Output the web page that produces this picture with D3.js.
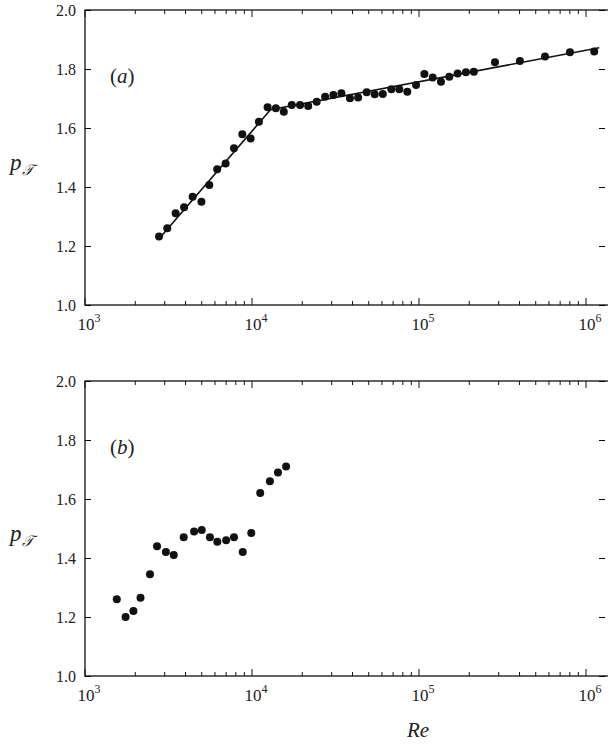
<!DOCTYPE html>
<meta charset="UTF-8">
<html>
<head>
<script src="https://cdn.jsdelivr.net/npm/d3@7"></script>
<style>
body { margin: 0; background: #fff; }
</style>
</head>
<body>
<div id="chart"></div>
<script>
// panel (a): measured points
var reA = [2775, 3110, 3490, 3920, 4410, 4980, 5550, 6190, 6950, 7800, 8750, 9810, 11000,
  12400, 13900, 15500, 17300, 19400, 21700, 24400, 27400, 30700, 34300, 38600, 43200,
  48600, 54300, 60700, 68300, 76200, 85100, 96000, 107700, 120800, 135400, 151800,
  170300, 191000, 213000, 285000, 402000, 568000, 802000, 1120000]
var pA = [1.232, 1.26, 1.311, 1.331, 1.367, 1.350, 1.407, 1.460, 1.480, 1.531, 1.579, 1.564, 1.621,
  1.670, 1.667, 1.655, 1.678, 1.678, 1.675, 1.689, 1.706, 1.712, 1.718, 1.701, 1.703,
  1.721, 1.714, 1.715, 1.731, 1.731, 1.723, 1.746, 1.783, 1.771, 1.757, 1.774,
  1.785, 1.789, 1.791, 1.823, 1.827, 1.842, 1.857, 1.859]
// panel (a): fitted piecewise line
var fitRe = [2750, 12900, 1200000]
var fitP = [1.222, 1.662, 1.872]
// panel (b)
var reB = [1550, 1750, 1950, 2150, 2450, 2700, 3050, 3400, 3900, 4500, 5000, 5600, 6200,
  7000, 7800, 8800, 9900, 11200, 12800, 14300, 16000]
var pB = [1.26, 1.20, 1.22, 1.265, 1.345, 1.44, 1.42, 1.41, 1.47, 1.49, 1.495, 1.47, 1.455,
  1.46, 1.47, 1.42, 1.485, 1.62, 1.66, 1.69, 1.71]
var yTicks = [1.0, 1.2, 1.4, 1.6, 1.8, 2.0]
var xDecades = [1e3, 1e4, 1e5, 1e6]

var FONT = "Liberation Serif"
var W = 608, H = 746
var svg = d3.select("#chart").append("svg").attr("width", W).attr("height", H)
  .attr("font-family", FONT)

var x = d3.scaleLog().domain([1e3, Math.pow(10, 3 + 527 / 167)]).range([85, 612])

function txt(sel) { return sel.attr("font-family", FONT).attr("fill", "#222") }

function panel(top, label, re, p, fit) {
  var y = d3.scaleLinear().domain([1, 2]).range([top + 295, top])
  var g = svg.append("g")
  g.append("rect").attr("x", 85).attr("y", top).attr("width", 527).attr("height", 295)
    .attr("fill", "none").attr("stroke", "#111").attr("stroke-width", 1.3)
  var ya = g.append("g").attr("transform", "translate(85,0)")
    .call(d3.axisLeft(y).tickValues(yTicks).tickSizeInner(-6).tickSizeOuter(0).tickPadding(9)
      .tickFormat(d3.format(".1f")))
  ya.attr("font-family", FONT).attr("font-size", 16)
  ya.select(".domain").remove()
  txt(ya.selectAll("text"))
  var yr = g.append("g").attr("transform", "translate(605,0)")
    .call(d3.axisRight(y).tickValues(yTicks).tickSizeInner(-6).tickSizeOuter(0).tickFormat(""))
  yr.select(".domain").remove()
  var minor = []
  for (var k = 3; k < 7; k++) for (var m = 2; m < 10; m++) minor.push(m * Math.pow(10, k))
  minor = minor.filter(function (v) { return x(v) < 608 })
  ;[[top + 295, -1], [top, 1]].forEach(function (s) {
    g.selectAll(null).data(xDecades).enter().append("line")
      .attr("x1", function (d) { return x(d) }).attr("x2", function (d) { return x(d) })
      .attr("y1", s[0]).attr("y2", s[0] + s[1] * 7).attr("stroke", "#111")
    g.selectAll(null).data(minor).enter().append("line")
      .attr("x1", function (d) { return x(d) }).attr("x2", function (d) { return x(d) })
      .attr("y1", s[0]).attr("y2", s[0] + s[1] * 4).attr("stroke", "#111")
  })
  var xl = txt(g.selectAll(null).data(xDecades).enter().append("text"))
    .attr("x", function (d) { return x(d) + 4 }).attr("y", top + 320)
    .attr("text-anchor", "middle").attr("font-size", 17)
  xl.append("tspan").text("10")
  xl.append("tspan").attr("dy", -8).attr("font-size", 12)
    .text(function (d) { return Math.round(Math.log10(d)) })
  if (fit) {
    g.append("path").datum(d3.zip(fit[0], fit[1]))
      .attr("d", d3.line().x(function (d) { return x(d[0]) }).y(function (d) { return y(d[1]) }))
      .attr("fill", "none").attr("stroke", "#111").attr("stroke-width", 1.6)
  }
  g.selectAll(null).data(d3.zip(re, p)).enter().append("circle")
    .attr("cx", function (d) { return x(d[0]) }).attr("cy", function (d) { return y(d[1]) })
    .attr("r", 4).attr("fill", "#111")
  var t = txt(g.append("text")).attr("x", 110).attr("y", top + 73).attr("font-size", 21)
  t.append("tspan").text("(")
  t.append("tspan").attr("font-style", "italic").text(label)
  t.append("tspan").text(")")
  var yt = txt(g.append("text")).attr("x", 10).attr("y", top + 160).attr("font-size", 23)
    .attr("font-style", "italic")
  yt.append("tspan").text("p")
  yt.append("tspan").attr("dy", 5).attr("font-size", 15).text("\u{1D4AF}")
}

panel(10, "a", reA, pA, [fitRe, fitP])
panel(381, "b", reB, pB, null)

txt(svg.append("text")).attr("x", 418).attr("y", 737).attr("text-anchor", "middle")
  .attr("font-size", 21).attr("font-style", "italic").text("Re")
</script>
</body>
</html>
